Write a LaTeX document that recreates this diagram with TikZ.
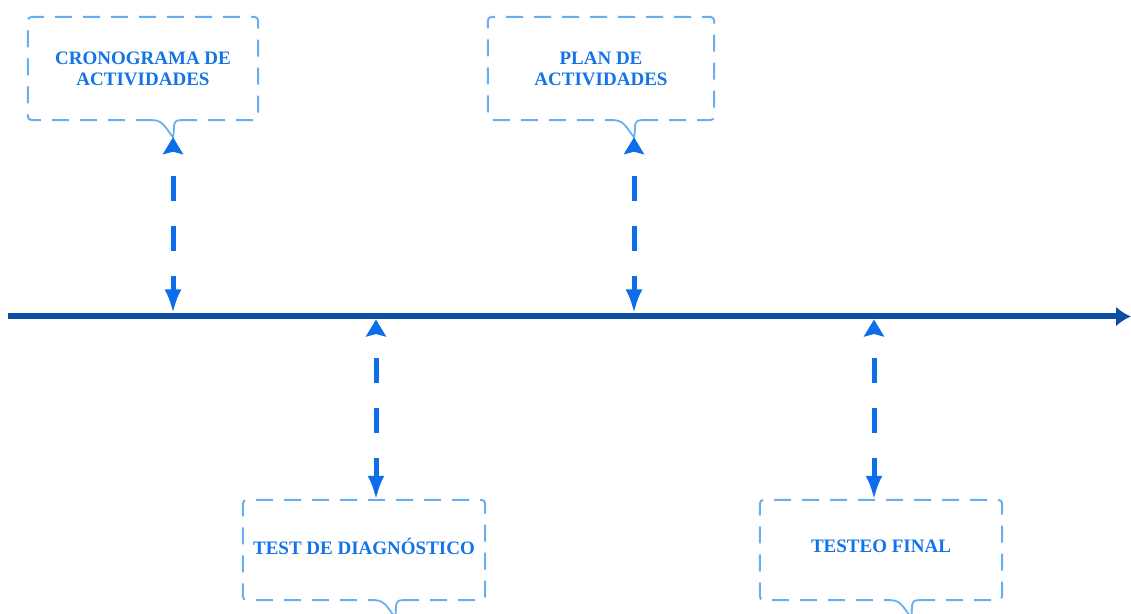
\documentclass[tikz,border=0pt]{standalone}
\usepackage{fontspec}
\setmainfont{Liberation Serif}
\usetikzlibrary{arrows.meta,calc}
\definecolor{lineblue}{HTML}{0B4EA2}
\definecolor{linkblue}{HTML}{0D6EEB}
\definecolor{boxblue}{HTML}{6AAEF2}
\definecolor{textblue}{HTML}{1473E6}

\begin{document}
\begin{tikzpicture}[x=1pt,y=1pt,
  box/.style={minimum width=#1, inner sep=0pt, align=center, text=textblue,
    font=\fontsize{19}{21}\selectfont\bfseries},
  outline/.style={draw=boxblue, line width=2pt, dash pattern=on 17pt off 11pt, rounded corners=4pt},
  notch/.style={draw=boxblue, line width=1.8pt},
  link/.style={draw=linkblue, line width=5pt, dash pattern=on 25pt off 25pt, dash phase=25pt,
    {Stealth[length=17pt,width=20pt,inset=2.5pt]}-{Latex[length=24pt,width=17pt]}},
  timeline/.style={draw=lineblue, line width=6pt, -{Latex[length=15pt,width=20pt]}}]
\useasboundingbox (0,0) rectangle (1131,613);

% the boxes
\node[box=230, minimum height=103] (crono) at (143,544.5) {CRONOGRAMA DE\\ACTIVIDADES};
\node[box=226, minimum height=103] (plan) at (601,544.5) {PLAN DE\\ACTIVIDADES};
\node[box=242, minimum height=100] (test) at (364,63) {\raisebox{4pt}[\height][\depth]{TEST DE DIAGNÓSTICO}};
\node[box=242, minimum height=100] (final) at (881,63) {\raisebox{4pt}[\height][\depth]{TESTEO FINAL}};

% notch tips
\coordinate (crono tip) at ($(crono.south)+(30,-17)$);
\coordinate (plan tip) at ($(plan.south)+(33,-17)$);

% outlines with notch
\foreach \n/\o in {crono/30, plan/33, test/31, final/30} {
\draw[outline] ($(\n.south)+(\o+7,0)$) -- (\n.south east) -- (\n.north east)
  -- (\n.north west) -- (\n.south west) -- ($(\n.south)+(\o-20,0)$);
\draw[notch] ($(\n.south)+(\o-20,0)$) to[out=0,in=130] ($(\n.south)+(\o,-17)$)
  to[out=75,in=180,looseness=1.2] ($(\n.south)+(\o+7,0)$);
}

% timeline
\coordinate (tl start) at (8,296.5);
\coordinate (tl end) at (1131,296.5);
\draw[timeline] (tl start) -- (tl end);

% arrows up
\draw[link, shorten >=3pt] (crono tip) -- (crono tip |- tl start);
\draw[link, shorten >=3pt] (plan tip) -- (plan tip |- tl start);

% arrows down
\coordinate (t3) at (376,296.5);
\coordinate (t4) at (874,296.5);
\draw[link, shorten <=3pt] (t3) -- (t3 |- test.north);
\draw[link, shorten <=3pt] (t4) -- (t4 |- final.north);

\end{tikzpicture}
\end{document}
